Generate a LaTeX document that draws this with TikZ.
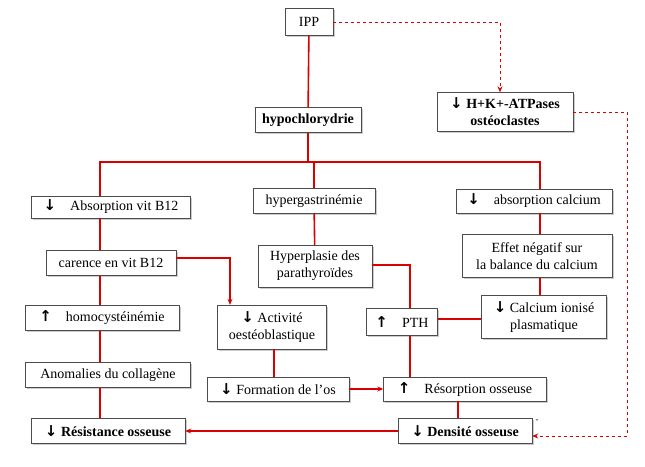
\documentclass[tikz,border=0pt]{standalone}
\usepackage{fontspec}
\setmainfont{Liberation Serif}
\newfontfamily\arrowfont{DejaVu Sans}
\usetikzlibrary{positioning,shadows,arrows.meta}
\newcommand{\dn}{{\arrowfont\bfseries\fontsize{15}{15}\selectfont ↓}}
\newcommand{\up}{{\arrowfont\bfseries\fontsize{15}{15}\selectfont ↑}}
\tikzset{
  box/.style={draw=black!70,fill=white,inner sep=1pt,align=center,font=\fontsize{14}{17}\selectfont,
    drop shadow={shadow xshift=1.5pt,shadow yshift=-1.5pt,fill=black!40}},
  bbox/.style={box,font=\fontsize{14}{17}\selectfont\bfseries},
  link/.style={red!85!black,line width=1.6pt},
  tip/.style={-{Stealth[length=6pt,width=5pt]}},
  dashlink/.style={red!85!black,dashed,line width=1pt}
}
\begin{document}
\begin{tikzpicture}[x=1pt,y=-1pt]
  \useasboundingbox (0,0) rectangle (645,466);

  %%%% top
  \node[box,minimum width=48pt,minimum height=27pt] (ipp) at (309,22) {IPP};
  \node[bbox,minimum width=136pt,minimum height=39pt] (atp) at (505,112) {\dn\ H+K+-ATPases\\ostéoclastes};
  \node[bbox,minimum width=106pt,minimum height=25pt] (hypo) at (308,120) {hypochlorydrie};

  %%%% second row
  \node[box,minimum width=159pt,minimum height=22pt] (absb) at (111,207) {\dn\quad Absorption vit B12};
  \node[box,minimum width=122pt,minimum height=25pt] (hgas) at (314,201) {hypergastrinémie};
  \node[box,minimum width=156pt,minimum height=24pt] (absc) at (534,201) {\dn\quad absorption calcium};

  %%%% third row
  \node[box,minimum width=130pt,minimum height=25pt] (car) at (111,263) {carence en vit B12};
  \node[box,minimum width=114pt,minimum height=42pt] (hpar) at (315,266) {Hyperplasie des\\parathyroïdes};
  \node[box,minimum width=150pt,minimum height=43pt] (eff) at (537,256) {Effet négatif sur\\la balance du calcium};

  %%%% fourth row
  \node[box,minimum width=154pt,minimum height=25pt] (homo) at (102,318) {\up\quad homocystéinémie};
  \node[box,minimum width=109pt,minimum height=44pt] (act) at (272,327) {\dn\ Activité\\oestéoblastique};
  \node[box,minimum width=71pt,minimum height=27pt] (pth) at (402,322) {\up\quad PTH};
  \node[box,minimum width=125pt,minimum height=43pt] (cal) at (544,317) {\dn\ Calcium ionisé\\plasmatique};

  %%%% fifth row
  \node[box,minimum width=165pt,minimum height=25pt] (anom) at (108,375) {Anomalies du collagène};
  \node[box,minimum width=142pt,minimum height=24pt] (form) at (278,389) {\dn\ Formation de l’os};
  \node[box,minimum width=163pt,minimum height=24pt] (reso) at (465,389) {\up\quad Résorption osseuse};

  %%%% bottom
  \node[bbox,minimum width=154pt,minimum height=25pt] (resi) at (108,431) {\dn\ Résistance osseuse};
  \node[bbox,minimum width=134pt,minimum height=25pt] (dens) at (465,431) {\dn\ Densité osseuse};
  \node[inner sep=0pt,font=\small] (mark) at (537,421) {-};

  %%%% connectors
  \draw[link] (ipp) -- (hypo);
  \draw[link] (hypo) -- (308,162) coordinate (fork);
  \draw[link] (fork) -- (100,162) -- (absb.north -| 100,0);
  \draw[link] (fork) -- (540,162) -- (absc.north -| 540,0);
  \draw[link] (fork -| hgas) -- (hgas);
  \draw[link] (absb.south -| 100,0) -- (car.north -| 100,0);
  \draw[link] (car.south -| 100,0) -- (homo.north -| 100,0);
  \draw[link] (homo.south -| 100,0) -- (anom.north -| 100,0);
  \draw[link] (anom.south -| 100,0) -- (resi.north -| 100,0);
  \draw[link] (hgas) -- (hpar);
  \draw[link,tip] (car.east |- 0,258) -- (230,258) -- (act.north -| 230,0);
  \draw[link] (hpar.east |- 0,265) -- (410,265) -- (pth.north -| 410,0);
  \draw[link] (absc.south -| 540,0) -- (eff.north -| 540,0);
  \draw[link] (eff.south -| 540,0) -- (cal.north -| 540,0);
  \draw[link] (pth.east |- 0,319) -- (cal.west |- 0,319);
  \draw[link] (pth.south -| 410,0) -- (reso.north -| 410,0);
  \draw[link] (act.south -| 274,0) -- (form.north -| 274,0);
  \draw[link,tip] (form) -- (reso);
  \draw[link] (reso.south -| 458,0) -- (dens.north -| 458,0);
  \draw[link,tip] (dens) -- (resi);
  \draw[dashlink,tip] (ipp.east) -- (500,22) -- (atp.north -| 500,0);
  \draw[dashlink,tip] (atp.east) -- (627,112) -- (627,436) -- (dens.east |- 0,436);
\end{tikzpicture}
\end{document}
